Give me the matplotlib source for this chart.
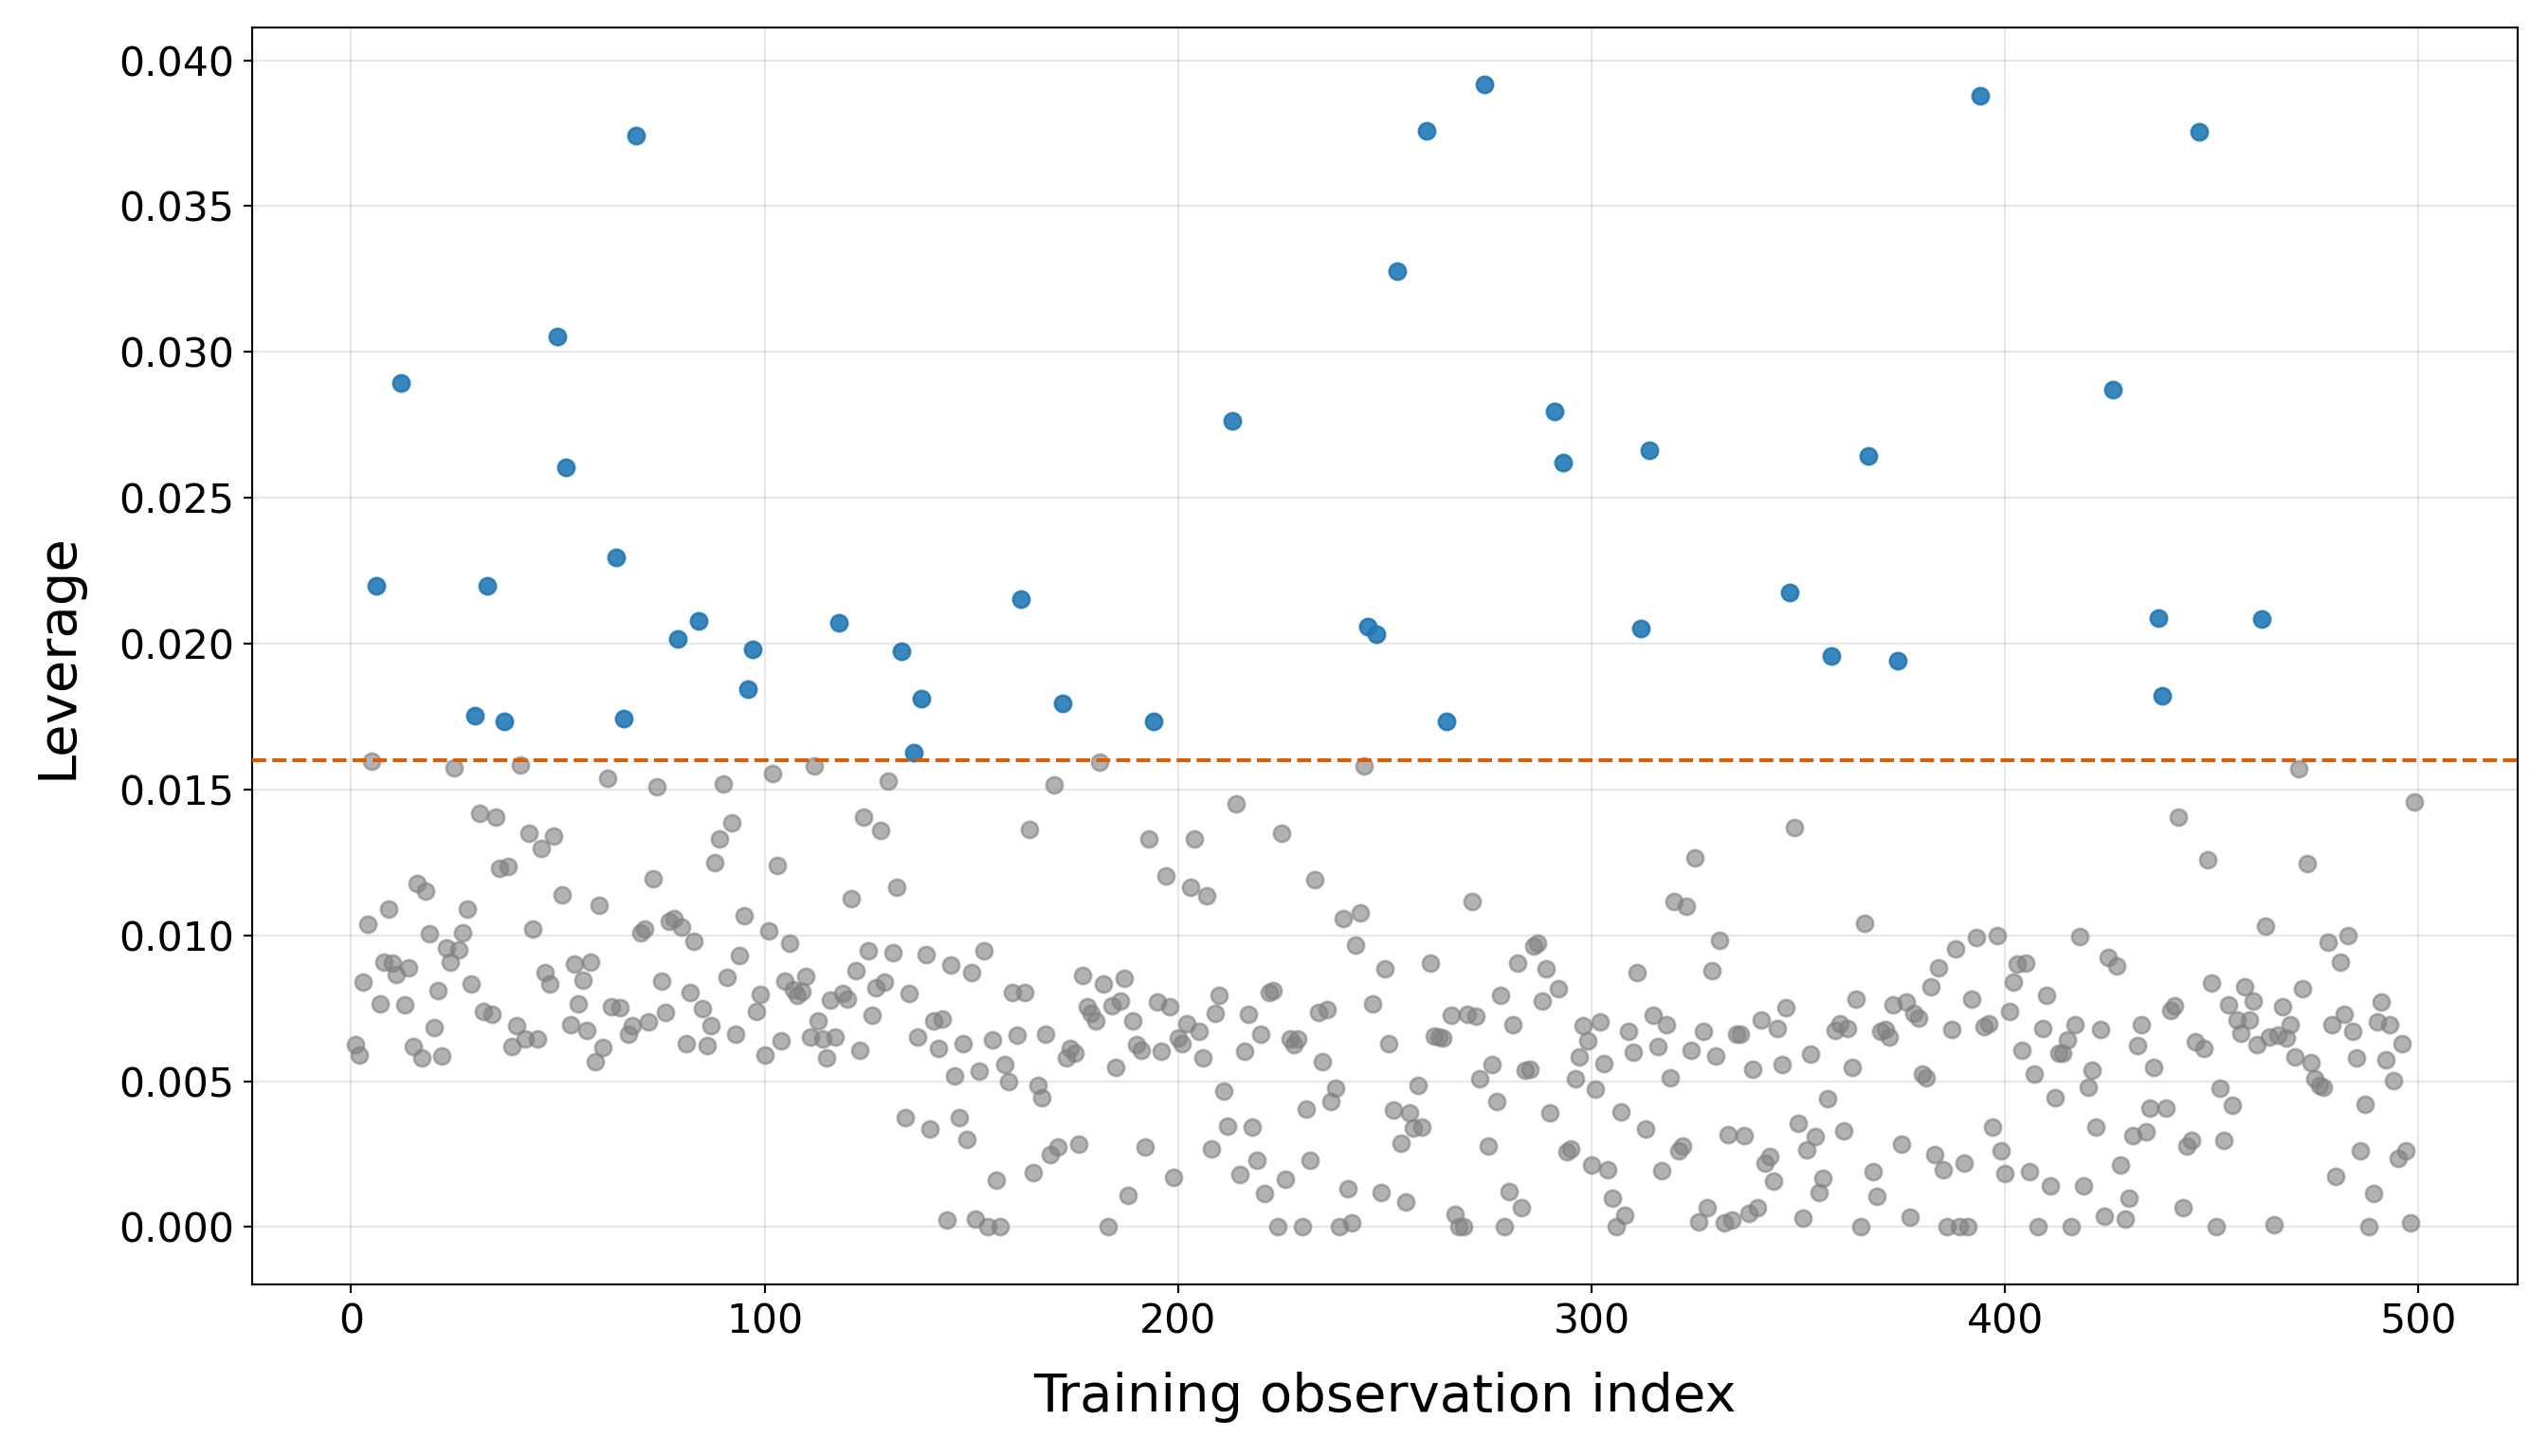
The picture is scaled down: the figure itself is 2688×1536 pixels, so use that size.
import numpy as np
import matplotlib
matplotlib.use("Agg")
from matplotlib import pyplot as plt

leverage = [
    0.00624, 0.00590, 0.00840, 0.01039, 0.01598, 0.02199, 0.00765, 0.00908, 0.01091, 0.00906,
    0.00866, 0.02895, 0.00763, 0.00890, 0.00620, 0.01179, 0.00581, 0.01151, 0.01006, 0.00685,
    0.00811, 0.00587, 0.00957, 0.00908, 0.01573, 0.00951, 0.01010, 0.01090, 0.00834, 0.01754,
    0.01418, 0.00738, 0.02199, 0.00728, 0.01405, 0.01230, 0.01735, 0.01237, 0.00618, 0.00689,
    0.01584, 0.00645, 0.01351, 0.01023, 0.00644, 0.01298, 0.00874, 0.00833, 0.01340, 0.03052,
    0.01139, 0.02604, 0.00693, 0.00902, 0.00765, 0.00847, 0.00675, 0.00908, 0.00567, 0.01104,
    0.00616, 0.01538, 0.00755, 0.02296, 0.00753, 0.01745, 0.00662, 0.00690, 0.03743, 0.01009,
    0.01023, 0.00704, 0.01194, 0.01509, 0.00843, 0.00737, 0.01049, 0.01057, 0.02017, 0.01028,
    0.00630, 0.00804, 0.00980, 0.02079, 0.00749, 0.00623, 0.00689, 0.01248, 0.01330, 0.01520,
    0.00857, 0.01386, 0.00662, 0.00930, 0.01068, 0.01845, 0.01982, 0.00738, 0.00797, 0.00590,
    0.01014, 0.01556, 0.01240, 0.00640, 0.00844, 0.00974, 0.00814, 0.00795, 0.00806, 0.00861,
    0.00653, 0.01581, 0.00707, 0.00645, 0.00580, 0.00778, 0.00651, 0.02073, 0.00800, 0.00780,
    0.01125, 0.00879, 0.00607, 0.01406, 0.00948, 0.00727, 0.00821, 0.01360, 0.00841, 0.01530,
    0.00941, 0.01165, 0.01973, 0.00374, 0.00800, 0.01628, 0.00653, 0.01813, 0.00934, 0.00337,
    0.00707, 0.00613, 0.00714, 0.00023, 0.00899, 0.00519, 0.00374, 0.00630, 0.00302, 0.00872,
    0.00026, 0.00533, 0.00948, 0.00000, 0.00642, 0.00162, 0.00003, 0.00558, 0.00499, 0.00805,
    0.00659, 0.02154, 0.00805, 0.01363, 0.00188, 0.00487, 0.00442, 0.00662, 0.00248, 0.01516,
    0.00273, 0.01794, 0.00579, 0.00613, 0.00596, 0.00285, 0.00863, 0.00754, 0.00732, 0.00707,
    0.01595, 0.00834, 0.00000, 0.00760, 0.00548, 0.00776, 0.00854, 0.00109, 0.00707, 0.00626,
    0.00607, 0.00276, 0.01330, 0.01735, 0.00772, 0.00604, 0.01204, 0.00756, 0.00171, 0.00649,
    0.00630, 0.00698, 0.01165, 0.01330, 0.00670, 0.00581, 0.01137, 0.00269, 0.00734, 0.00795,
    0.00467, 0.00347, 0.02763, 0.01451, 0.00180, 0.00604, 0.00730, 0.00344, 0.00230, 0.00662,
    0.00114, 0.00803, 0.00811, 0.00000, 0.01351, 0.00164, 0.00645, 0.00624, 0.00645, 0.00000,
    0.00405, 0.00228, 0.01190, 0.00737, 0.00567, 0.00746, 0.00431, 0.00475, 0.00000, 0.01058,
    0.00132, 0.00013, 0.00967, 0.01077, 0.01581, 0.02060, 0.00765, 0.02032, 0.00120, 0.00886,
    0.00630, 0.00402, 0.03276, 0.00287, 0.00085, 0.00393, 0.00339, 0.00487, 0.00344, 0.03759,
    0.00905, 0.00656, 0.00653, 0.00647, 0.01735, 0.00727, 0.00043, 0.00000, 0.00000, 0.00730,
    0.01116, 0.00724, 0.00507, 0.03916, 0.00277, 0.00558, 0.00431, 0.00795, 0.00000, 0.00123,
    0.00695, 0.00905, 0.00068, 0.00539, 0.00542, 0.00964, 0.00972, 0.00776, 0.00884, 0.00390,
    0.02795, 0.00818, 0.02621, 0.00257, 0.00269, 0.00507, 0.00584, 0.00692, 0.00639, 0.00212,
    0.00474, 0.00704, 0.00562, 0.00195, 0.00100, 0.00000, 0.00394, 0.00041, 0.00672, 0.00600,
    0.00872, 0.02051, 0.00337, 0.02663, 0.00727, 0.00620, 0.00194, 0.00695, 0.00513, 0.01116,
    0.00262, 0.00279, 0.01099, 0.00607, 0.01265, 0.00018, 0.00672, 0.00066, 0.00880, 0.00588,
    0.00983, 0.00015, 0.00317, 0.00023, 0.00662, 0.00662, 0.00313, 0.00046, 0.00542, 0.00068,
    0.00711, 0.00220, 0.00243, 0.00159, 0.00681, 0.00558, 0.00753, 0.02177, 0.01369, 0.00357,
    0.00030, 0.00265, 0.00593, 0.00309, 0.00117, 0.00166, 0.00439, 0.01958, 0.00674, 0.00698,
    0.00330, 0.00681, 0.00548, 0.00781, 0.00000, 0.01042, 0.02644, 0.00189, 0.00104, 0.00670,
    0.00678, 0.00652, 0.00763, 0.01942, 0.00285, 0.00772, 0.00035, 0.00732, 0.00718, 0.00524,
    0.00513, 0.00825, 0.00248, 0.00890, 0.00197, 0.00000, 0.00678, 0.00953, 0.00000, 0.00220,
    0.00000, 0.00782, 0.00993, 0.03879, 0.00687, 0.00698, 0.00342, 0.00999, 0.00260, 0.00182,
    0.00738, 0.00841, 0.00903, 0.00607, 0.00906, 0.00189, 0.00524, 0.00000, 0.00681, 0.00795,
    0.00141, 0.00444, 0.00595, 0.00596, 0.00641, 0.00000, 0.00695, 0.00997, 0.00141, 0.00478,
    0.00539, 0.00342, 0.00679, 0.00038, 0.00925, 0.02870, 0.00895, 0.00214, 0.00026, 0.00100,
    0.00314, 0.00622, 0.00695, 0.00325, 0.00408, 0.00548, 0.02089, 0.01820, 0.00408, 0.00744,
    0.00759, 0.01406, 0.00068, 0.00277, 0.00297, 0.00636, 0.03756, 0.00613, 0.01259, 0.00837,
    0.00000, 0.00476, 0.00297, 0.00763, 0.00417, 0.00710, 0.00663, 0.00825, 0.00710, 0.00776,
    0.00626, 0.02086, 0.01032, 0.00653, 0.00009, 0.00658, 0.00757, 0.00649, 0.00693, 0.00584,
    0.01570, 0.00818, 0.01247, 0.00565, 0.00510, 0.00485, 0.00478, 0.00977, 0.00693, 0.00174,
    0.00909, 0.00730, 0.01000, 0.00670, 0.00579, 0.00263, 0.00421, 0.00000, 0.00114, 0.00702,
    0.00772, 0.00575, 0.00693, 0.00502, 0.00237, 0.00630, 0.00263, 0.00015, 0.01458,
]
obs_index = list(range(1, len(leverage) + 1))
threshold = 0.016  # 2 * p / n


def plot_leverage():
    idx = np.array(obs_index)
    h = np.array(leverage)
    high = h > threshold

    fig, ax = plt.subplots(figsize=(14, 8), dpi=192)
    ax.scatter(idx[~high], h[~high], s=42, color="gray", alpha=0.6,
               linewidths=1.0, zorder=2)
    ax.scatter(idx[high], h[high], s=42, color="#1f77b4", alpha=0.88,
               linewidths=1.0, zorder=3)
    ax.axhline(threshold, color="#d95f02", linestyle="--", linewidth=1.5, zorder=4)

    ax.set_xlabel("Training observation index", fontsize=21, labelpad=12)
    ax.set_ylabel("Leverage", fontsize=21, labelpad=14)
    ax.tick_params(labelsize=16)
    ax.yaxis.set_major_formatter(matplotlib.ticker.FormatStrFormatter("%.3f"))
    ax.grid(True, alpha=0.3)
    ax.set_axisbelow(True)

    fig.subplots_adjust(left=0.099, right=0.988, top=0.981, bottom=0.118)
    fig.savefig("out.png", dpi=192)


def main():
    plot_leverage()


if __name__ == '__main__':
    main()
